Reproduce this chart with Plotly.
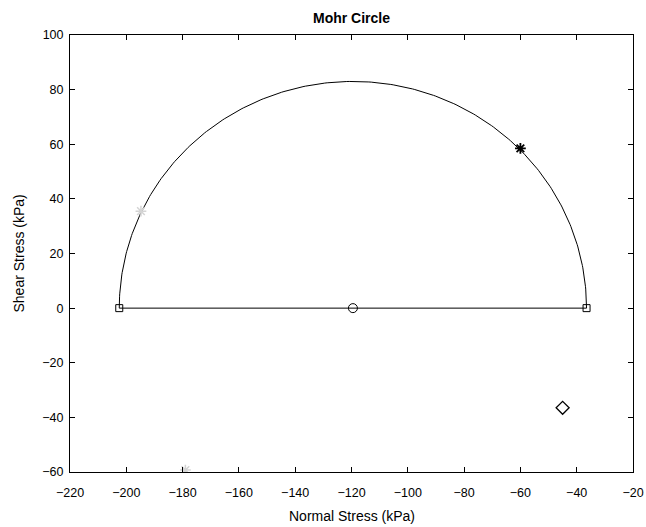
import numpy as np
import plotly.graph_objects as go

# Principal stresses (kPa)
sigma_3 = -202.5
sigma_1 = -36.5

# Stress states plotted on the circle and elsewhere (kPa)
star_pt = (-60.0, 58.5)
grey_circle_pt = (-194.8, 35.5)
grey_bottom_pt = (-179.0, -59.3)
diamond_pt = (-45.0, -36.5)

center = (sigma_1 + sigma_3) / 2
radius = (sigma_1 - sigma_3) / 2
theta = np.linspace(0, np.pi, 300)
circ_x = center + radius * np.cos(theta)
circ_y = radius * np.sin(theta)

fig = go.Figure()
fig.add_trace(go.Scatter(x=circ_x, y=circ_y, mode="lines",
                         line=dict(color="black", width=1), hoverinfo="skip"))
fig.add_trace(go.Scatter(x=[sigma_3, sigma_1], y=[0, 0], mode="lines+markers",
                         line=dict(color="black", width=1),
                         marker=dict(symbol="square-open", size=7, color="black",
                                     line=dict(width=1))))
fig.add_trace(go.Scatter(x=[center], y=[0], mode="markers",
                         marker=dict(symbol="circle-open", size=9, color="black",
                                     line=dict(width=1))))
fig.add_trace(go.Scatter(x=[star_pt[0]], y=[star_pt[1]], mode="markers",
                         marker=dict(symbol="asterisk-open", size=9, color="black",
                                     line=dict(width=1.8, color="black"))))
fig.add_trace(go.Scatter(x=[grey_circle_pt[0], grey_bottom_pt[0]],
                         y=[grey_circle_pt[1], grey_bottom_pt[1]], mode="markers",
                         marker=dict(symbol="asterisk-open", size=9, color="#d4d4d4",
                                     line=dict(width=1.5, color="#d4d4d4"))))
fig.add_trace(go.Scatter(x=[diamond_pt[0]], y=[diamond_pt[1]], mode="markers",
                         marker=dict(symbol="diamond-open", size=10, color="black",
                                     line=dict(width=1.3))))

axis_common = dict(showgrid=False, zeroline=False, showline=True, linecolor="black",
                   linewidth=1, mirror="allticks", ticks="inside", ticklen=5,
                   tickcolor="black", tickfont=dict(size=12.5, color="black"),
                   automargin=False)

fig.update_layout(
    width=646, height=527,
    margin=dict(l=70, r=13, t=35, b=55),
    paper_bgcolor="white", plot_bgcolor="white",
    showlegend=False,
    font=dict(family="Liberation Sans, Arial, sans-serif", color="black"),
    title=dict(text="<b>Mohr Circle</b>", x=0.5, xanchor="center", xref="paper",
               y=1, yref="paper", yanchor="bottom", pad=dict(b=12),
               font=dict(size=14), automargin=False),
    xaxis=dict(range=[-220, -20], dtick=20, tick0=-220, ticklabelstandoff=9,
               **axis_common),
    yaxis=dict(range=[-60, 100], dtick=20, ticklabelstandoff=3, **axis_common),
    annotations=[
        dict(text="Normal Stress (kPa)", x=0.5, y=0, xref="paper", yref="paper",
             xanchor="center", yanchor="middle", yshift=-44, showarrow=False,
             font=dict(size=14)),
        dict(text="Shear Stress (kPa)", x=0, y=0.5, xref="paper", yref="paper",
             xanchor="center", yanchor="middle", xshift=-52, textangle=-90,
             showarrow=False, font=dict(size=14)),
    ],
)

fig.write_html("out.html")
